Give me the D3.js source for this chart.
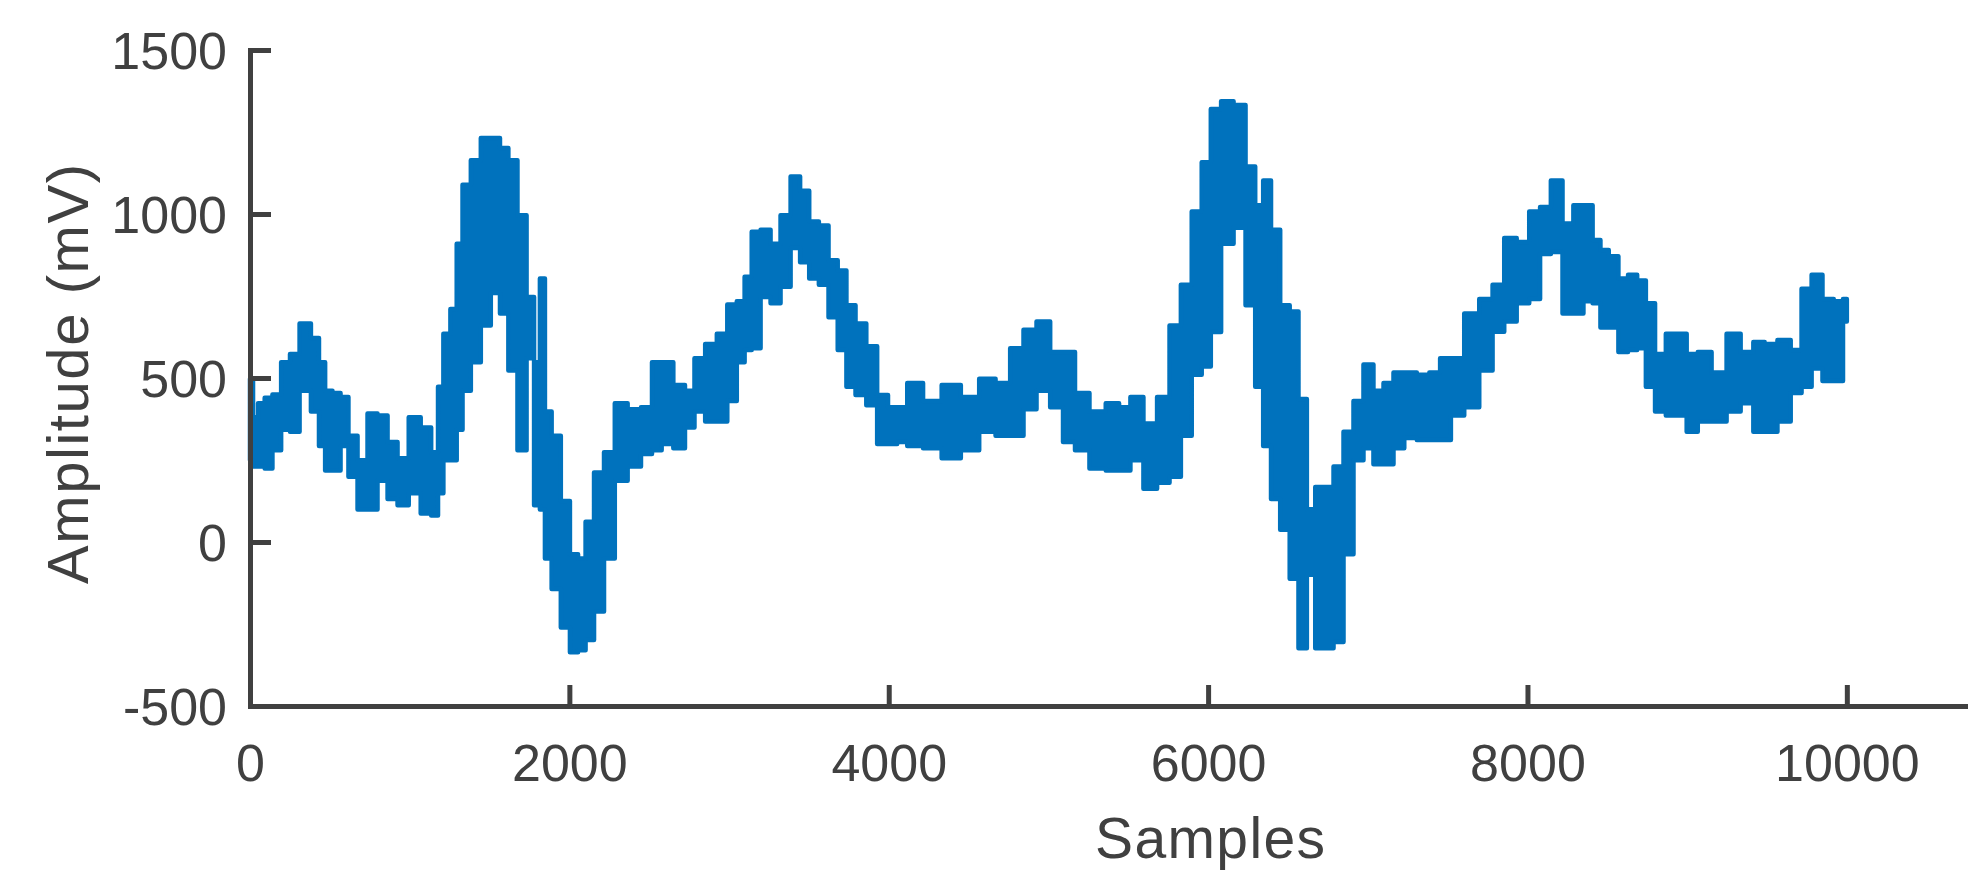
<!DOCTYPE html>
<html><head><meta charset="utf-8">
<script src="https://cdn.jsdelivr.net/npm/d3@7"></script>
<style>html,body{margin:0;padding:0;background:#fff;} svg{display:block;}</style>
</head><body>
<svg id="chart" width="1983" height="892"></svg>
<script>
// Sample positions where the envelope of the noisy signal was read
const samples = [0,38,63,121,160,230,271,350,413,451,490,543,591,642,705,767,830,893,955,1033,1105,1164,1191,1231,1279,1310,1352,1414,1477,1539,1592,1644,1706,1758,1800,1831,1863,1915,1978,2029,2080,2123,2186,2248,2321,2409,2488,2547,2609,2693,2755,2812,2889,2958,3020,3077,3118,3166,3229,3291,3354,3417,3473,3531,3594,3652,3709,3761,3823,3896,3959,4032,4074,4158,4272,4391,4512,4621,4717,4804,4884,4967,5055,5128,5205,5309,5409,5476,5551,5639,5722,5795,5864,5931,5989,6045,6118,6201,6268,6322,6368,6420,6483,6539,6593,6644,6698,6754,6817,6879,6942,7004,7067,7130,7192,7265,7349,7422,7484,7557,7651,7745,7818,7891,7974,8048,8110,8183,8256,8319,8382,8434,8480,8538,8601,8659,8715,8768,8830,8903,8966,9028,9105,9201,9293,9377,9452,9519,9612,9685,9748,9811,9884,9952,10000];
// Upper edge of the signal band (mV)
const upper = [498,380,423,440,450,548,573,666,622,548,461,454,442,324,249,392,386,305,255,380,349,274,473,635,710,909,1089,1164,1232,1232,1201,1164,996,747,548,803,398,324,125,-37,-50,62,212,274,423,405,411,548,548,479,461,560,604,635,724,734,809,946,952,909,996,1114,1071,977,965,859,828,722,666,597,448,411,411,485,430,479,442,498,485,591,647,672,579,579,454,398,423,411,442,361,442,660,784,1008,1158,1320,1344,1332,1145,1027,1102,952,722,703,436,100,168,168,230,336,430,541,461,485,517,517,510,517,560,560,697,741,784,927,915,1008,1021,1102,971,1027,1027,921,890,871,803,815,797,728,573,635,635,573,579,517,635,579,610,604,616,585,772,815,741,734,741];
// Lower edge of the signal band (mV)
const lower = [249,230,230,224,280,342,336,461,398,293,218,218,293,199,99,99,187,131,112,149,87,81,149,249,249,342,461,548,660,759,697,523,280,560,112,99,-50,-143,-261,-336,-330,-299,-212,-50,187,230,268,280,299,286,349,398,367,367,430,548,585,591,747,728,778,896,853,803,784,685,585,473,448,417,299,299,305,293,286,255,280,336,324,324,405,461,411,305,280,224,218,218,249,162,181,199,324,510,535,640,909,958,722,473,293,131,37,-112,-324,-100,-324,-324,-305,-37,249,286,237,237,286,317,311,311,311,386,411,523,641,672,728,741,878,884,697,697,734,728,654,654,579,585,591,473,398,386,386,336,367,367,398,423,336,336,367,454,473,529,491,491,672];
const xTicks = [0,2000,4000,6000,8000,10000];
const yTicks = [-500,0,500,1000,1500];
const xLabel = "Samples";
const yLabel = "Amplitude (mV)";

const FONT = "'Liberation Sans', Arial, Helvetica, sans-serif";
const AX = "#404040";
const LINE = "#0072BD";
const fmt = d => String(d); // plain hyphen-minus like the reference

const svg = d3.select("#chart");
svg.append("rect").attr("width",1983).attr("height",892).attr("fill","#fff");

const x = d3.scaleLinear().domain([0,10740]).range([250,1965]);
const y = d3.scaleLinear().domain([-500,1500]).range([706,50]);

const data = samples.map((s,i)=>({s, hi: upper[i], lo: lower[i]}));
const area = d3.area()
  .x(d=>x(d.s)).y0(d=>y(d.lo)).y1(d=>y(d.hi))
  .curve(d3.curveStep);
svg.append("path").datum(data)
  .attr("d", area)
  .attr("fill", LINE).attr("stroke", LINE)
  .attr("stroke-width", 4.5).attr("stroke-linejoin","round");

// X axis
const gx = svg.append("g").attr("transform","translate(0,706)")
  .call(d3.axisBottom(x).tickValues(xTicks).tickSizeInner(-21).tickSizeOuter(0).tickFormat(fmt));
// Y axis
const gy = svg.append("g").attr("transform","translate(250,0)")
  .call(d3.axisLeft(y).tickValues(yTicks).tickSizeInner(-21).tickSizeOuter(0).tickFormat(fmt));

[gx, gy].forEach(g=>{
  g.attr("font-size",null).attr("font-family",null);
  g.select(".domain").attr("stroke",AX).attr("stroke-width",5).attr("stroke-linecap","square");
  g.selectAll(".tick line").attr("stroke",AX).attr("stroke-width",5);
  g.selectAll(".tick text").attr("fill",AX).style("font-family",FONT).style("font-size","52px");
});
gx.selectAll(".tick text").attr("y",75).attr("dy",0);
gy.selectAll(".tick text").attr("x",-23).attr("dy","0.36em");

svg.append("text").text(xLabel)
  .attr("x",1210).attr("y",858).attr("text-anchor","middle")
  .attr("fill",AX).style("font-family",FONT).style("font-size","57px")
  .attr("textLength",230).attr("lengthAdjust","spacing");

svg.append("text").text(yLabel)
  .attr("transform","translate(88,374) rotate(-90)")
  .attr("text-anchor","middle")
  .attr("fill",AX).style("font-family",FONT).style("font-size","58px")
  .attr("textLength",420).attr("lengthAdjust","spacing");
</script>
</body></html>
